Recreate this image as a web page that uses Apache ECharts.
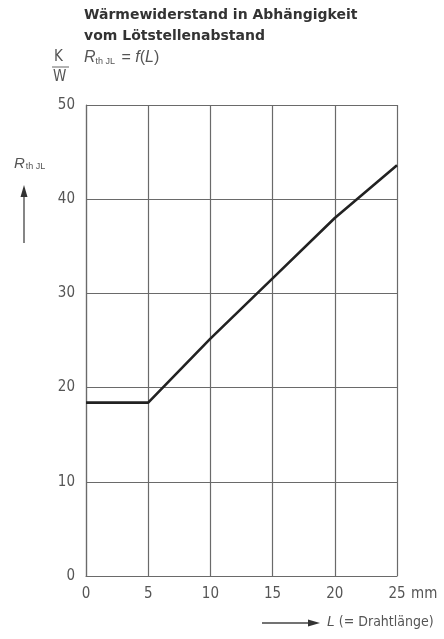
<!DOCTYPE html>
<html>
<head>
<meta charset="utf-8">
<script src="https://cdn.jsdelivr.net/npm/echarts@6/dist/echarts.min.js"></script>
<style>
html,body{margin:0;padding:0;background:#fff;}
#chart{width:444px;height:639px;}
</style>
</head>
<body>
<div id="chart"></div>
<script>
const lengthsMm = [0, 5, 10, 15, 20, 25];
const rthValues = [18.4, 18.4, 25.2, 31.6, 38.0, 43.6];
const xTicks = [0, 5, 10, 15, 20, 25];
const yTicks = [0, 10, 20, 30, 40, 50];

const chart = echarts.init(document.getElementById('chart'), null, {renderer: 'canvas'});
const gridColor = '#6a6a6a';
const labelColor = '#555';
const narrow = '"DejaVu Sans Condensed", "Liberation Sans Narrow", sans-serif';

chart.setOption({
  animation: false,
  backgroundColor: '#fff',
  grid: {left: 86, right: 47, top: 105, bottom: 63},
  xAxis: {
    type: 'value', min: xTicks[0], max: xTicks[xTicks.length - 1], interval: 5,
    axisLine: {show: true, lineStyle: {color: gridColor, width: 1.2}},
    axisTick: {show: false},
    axisLabel: {color: labelColor, fontFamily: narrow, fontSize: 15, margin: 11},
    splitLine: {show: true, lineStyle: {color: gridColor, width: 1.2}}
  },
  yAxis: {
    type: 'value', min: yTicks[0], max: yTicks[yTicks.length - 1], interval: 10,
    axisLine: {show: true, lineStyle: {color: gridColor, width: 1.2}},
    axisTick: {show: false},
    axisLabel: {color: labelColor, fontFamily: narrow, fontSize: 15, margin: 11},
    splitLine: {show: true, lineStyle: {color: gridColor, width: 1.2}}
  },
  series: [{
    type: 'line',
    data: lengthsMm.map((x, i) => [x, rthValues[i]]),
    symbol: 'none',
    lineStyle: {color: '#222', width: 2.6},
    z: 5
  }],
  graphic: [
    {type: 'text', left: 84, top: 8, style: {text: 'Wärmewiderstand in Abhängigkeit', font: 'bold 14px "DejaVu Sans", sans-serif', fill: '#333'}},
    {type: 'text', left: 84, top: 29, style: {text: 'vom Lötstellenabstand', font: 'bold 14px "DejaVu Sans", sans-serif', fill: '#333'}},
    {type: 'text', left: 84, top: 50, style: {
      text: '{r|R}{s|th JL}{n| = }{r|f}{n|(}{r|L}{n|)}',
      rich: {
        r: {font: 'italic 16px "Liberation Sans", Arial, sans-serif', fill: '#555'},
        s: {font: '9px "Liberation Sans", Arial, sans-serif', fill: '#555', padding: [7, 2, 0, 0]},
        n: {font: '16px "Liberation Sans", Arial, sans-serif', fill: '#555'}
      }
    }},
    {type: 'text', left: 54, top: 50, style: {text: 'K', font: '15px ' + narrow, fill: '#555'}},
    {type: 'line', shape: {x1: 52, y1: 67, x2: 69, y2: 67}, style: {stroke: '#666', lineWidth: 1}},
    {type: 'text', left: 53, top: 70, style: {text: 'W', font: '15px ' + narrow, fill: '#555'}},
    {type: 'text', left: 14, top: 156, style: {
      text: '{r|R}{s|th JL}',
      rich: {
        r: {font: 'italic 15px "Liberation Sans", Arial, sans-serif', fill: '#555'},
        s: {font: '9px "Liberation Sans", Arial, sans-serif', fill: '#555', padding: [7, 0, 0, 1]}
      }
    }},
    {type: 'line', shape: {x1: 24, y1: 243, x2: 24, y2: 195}, style: {stroke: '#444', lineWidth: 1.3}},
    {type: 'polygon', shape: {points: [[20.5, 197], [27.5, 197], [24, 185]]}, style: {fill: '#333'}},
    {type: 'text', left: 411, top: 587, style: {text: 'mm', font: '15px ' + narrow, fill: labelColor}},
    {type: 'line', shape: {x1: 262, y1: 623, x2: 312, y2: 623}, style: {stroke: '#444', lineWidth: 1.3}},
    {type: 'polygon', shape: {points: [[308, 619.5], [308, 626.5], [320, 623]]}, style: {fill: '#333'}},
    {type: 'text', left: 327, top: 615, style: {
      text: '{r|L}{n| (= Drahtlänge)}',
      rich: {
        r: {font: 'italic 14px "Liberation Sans", Arial, sans-serif', fill: '#555'},
        n: {font: '14px ' + narrow, fill: '#555'}
      }
    }}
  ]
});
</script>
</body>
</html>
